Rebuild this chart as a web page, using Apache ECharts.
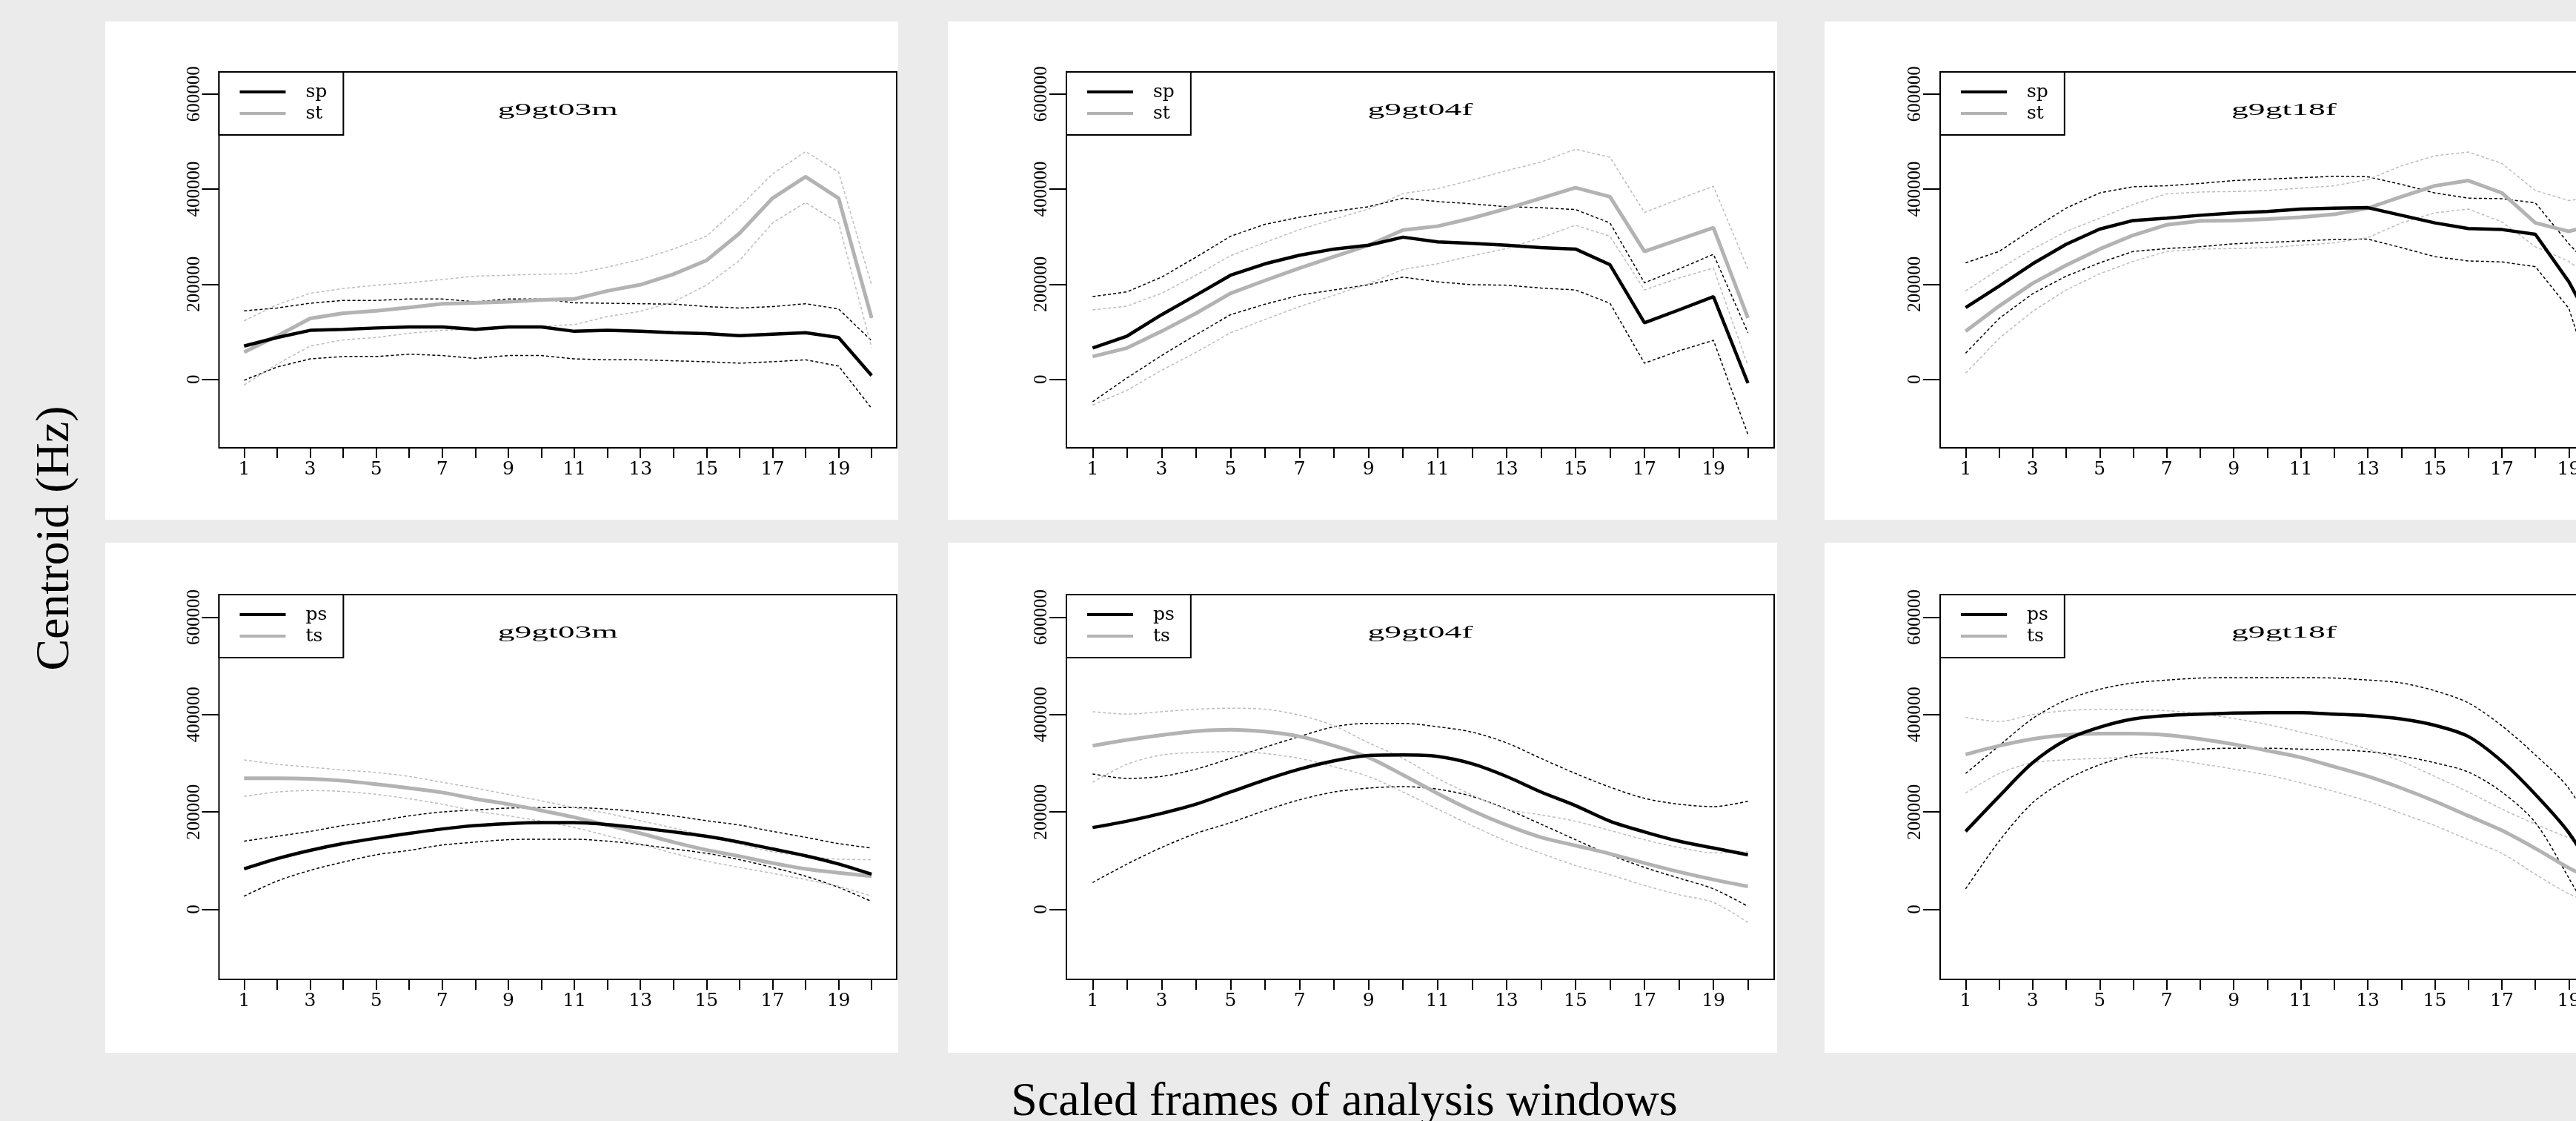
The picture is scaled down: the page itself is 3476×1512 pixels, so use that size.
<!DOCTYPE html>
<html>
<head>
<meta charset="utf-8">
<title>Centroid by scaled frames</title>
<script src="https://cdn.jsdelivr.net/npm/echarts@6/dist/echarts.min.js"></script>
<style>
    html, body { margin: 0; padding: 0; overflow: hidden; background: #ebebeb; }
    #centroid { width: 3560px; height: 1512px; }
</style>
</head>
<body>
<div id="centroid"></div>
<script>
var frames = [1, 2, 3, 4, 5, 6, 7, 8, 9, 10, 11, 12, 13, 14, 15, 16, 17, 18, 19, 20];
var frameLabels = [1, 3, 5, 7, 9, 11, 13, 15, 17, 19];
var centroidTicks = [0, 200000, 400000, 600000];

// top row: sp / st, mean with upper and lower band
var g9gt03m_sp = [70000, 88000, 103000, 105000, 108000, 110000, 110000, 105000, 110000, 110000, 101000, 103000, 101000, 98000, 96000, 92000, 95000, 98000, 88000, 8000];
var g9gt03m_spHi = [144000, 150000, 160000, 166000, 166000, 169000, 169000, 163000, 169000, 169000, 161000, 160000, 159000, 158000, 153000, 150000, 153000, 159000, 148000, 81000];
var g9gt03m_spLo = [-2000, 26000, 43000, 48000, 48000, 53000, 50000, 44000, 50000, 50000, 43000, 41000, 41000, 39000, 37000, 34000, 37000, 41000, 28000, -61000];
var g9gt03m_st = [57000, 91000, 128000, 139000, 144000, 151000, 159000, 161000, 163000, 167000, 169000, 186000, 199000, 221000, 250000, 307000, 381000, 426000, 381000, 129000];
var g9gt03m_stHi = [123000, 157000, 181000, 191000, 198000, 203000, 210000, 217000, 219000, 221000, 222000, 236000, 252000, 274000, 301000, 363000, 432000, 479000, 436000, 198000];
var g9gt03m_stLo = [-12000, 32000, 70000, 83000, 88000, 97000, 103000, 106000, 108000, 112000, 115000, 132000, 143000, 163000, 198000, 250000, 329000, 372000, 329000, 67000];

var g9gt04f_sp = [66000, 91000, 136000, 177000, 219000, 243000, 261000, 274000, 282000, 299000, 289000, 286000, 282000, 277000, 274000, 241000, 119000, 146000, 174000, -8000];
var g9gt04f_spHi = [174000, 184000, 215000, 257000, 301000, 326000, 341000, 353000, 363000, 381000, 374000, 369000, 363000, 361000, 357000, 329000, 203000, 232000, 263000, 98000];
var g9gt04f_spLo = [-47000, 3000, 50000, 94000, 136000, 158000, 177000, 188000, 199000, 215000, 205000, 199000, 198000, 192000, 188000, 160000, 34000, 60000, 82000, -116000];
var g9gt04f_st = [48000, 66000, 101000, 139000, 181000, 208000, 234000, 258000, 282000, 314000, 322000, 339000, 359000, 381000, 403000, 384000, 269000, 294000, 319000, 129000];
var g9gt04f_stHi = [146000, 154000, 181000, 219000, 260000, 288000, 315000, 337000, 358000, 391000, 401000, 419000, 439000, 457000, 484000, 467000, 351000, 379000, 406000, 232000];
var g9gt04f_stLo = [-54000, -23000, 19000, 57000, 98000, 126000, 153000, 177000, 201000, 231000, 243000, 260000, 275000, 298000, 324000, 301000, 188000, 213000, 234000, 29000];

var g9gt18f_sp = [151000, 196000, 243000, 284000, 316000, 334000, 339000, 345000, 350000, 353000, 358000, 360000, 361000, 345000, 329000, 317000, 315000, 305000, 205000, 75000];
var g9gt18f_spHi = [245000, 269000, 316000, 360000, 392000, 405000, 407000, 412000, 418000, 421000, 424000, 427000, 426000, 410000, 392000, 381000, 380000, 371000, 285000, 210000];
var g9gt18f_spLo = [55000, 128000, 180000, 217000, 245000, 269000, 275000, 279000, 285000, 288000, 291000, 294000, 295000, 277000, 258000, 249000, 247000, 237000, 149000, -70000];
var g9gt18f_st = [101000, 154000, 202000, 240000, 274000, 303000, 325000, 333000, 334000, 337000, 341000, 347000, 360000, 384000, 407000, 418000, 392000, 329000, 311000, 330000];
var g9gt18f_stHi = [186000, 232000, 274000, 311000, 339000, 368000, 390000, 394000, 395000, 397000, 402000, 407000, 420000, 449000, 470000, 478000, 454000, 397000, 376000, 385000];
var g9gt18f_stLo = [13000, 86000, 143000, 188000, 222000, 248000, 269000, 274000, 275000, 277000, 282000, 287000, 298000, 329000, 350000, 358000, 331000, 279000, 248000, 195000];

// bottom row: ps / ts
var g9gt03m_ps = [83000, 104000, 121000, 135000, 146000, 156000, 165000, 172000, 176000, 178000, 178000, 174000, 167000, 159000, 150000, 138000, 124000, 110000, 93000, 72000];
var g9gt03m_psHi = [140000, 150000, 160000, 172000, 181000, 192000, 200000, 204000, 208000, 209000, 209000, 206000, 200000, 192000, 182000, 173000, 160000, 148000, 135000, 126000];
var g9gt03m_psLo = [27000, 58000, 80000, 97000, 112000, 121000, 132000, 138000, 143000, 144000, 144000, 140000, 133000, 124000, 115000, 102000, 86000, 68000, 45000, 16000];
var g9gt03m_ts = [269000, 269000, 268000, 264000, 257000, 249000, 240000, 227000, 216000, 203000, 189000, 173000, 156000, 138000, 122000, 109000, 95000, 83000, 75000, 68000];
var g9gt03m_tsHi = [307000, 298000, 292000, 286000, 281000, 273000, 261000, 249000, 236000, 223000, 209000, 197000, 182000, 167000, 150000, 134000, 118000, 109000, 103000, 102000];
var g9gt03m_tsLo = [232000, 241000, 244000, 242000, 236000, 227000, 216000, 202000, 192000, 181000, 168000, 151000, 134000, 115000, 99000, 86000, 74000, 61000, 47000, 27000];

var g9gt04f_ps = [168000, 181000, 197000, 216000, 241000, 266000, 288000, 305000, 316000, 317000, 314000, 299000, 273000, 241000, 213000, 181000, 159000, 140000, 126000, 112000];
var g9gt04f_psHi = [278000, 269000, 273000, 288000, 310000, 333000, 355000, 375000, 382000, 382000, 375000, 364000, 342000, 310000, 279000, 251000, 228000, 216000, 211000, 222000];
var g9gt04f_psLo = [55000, 93000, 127000, 156000, 178000, 203000, 225000, 241000, 249000, 252000, 247000, 232000, 206000, 175000, 143000, 112000, 86000, 64000, 42000, 6000];
var g9gt04f_ts = [336000, 348000, 358000, 366000, 369000, 365000, 355000, 336000, 312000, 276000, 238000, 203000, 173000, 148000, 131000, 114000, 95000, 77000, 61000, 47000];
var g9gt04f_tsHi = [406000, 401000, 406000, 411000, 413000, 411000, 399000, 377000, 342000, 310000, 269000, 235000, 206000, 194000, 181000, 162000, 143000, 127000, 116000, 118000];
var g9gt04f_tsLo = [261000, 298000, 317000, 322000, 324000, 320000, 310000, 293000, 273000, 241000, 206000, 172000, 140000, 115000, 90000, 71000, 49000, 30000, 14000, -27000];

var g9gt18f_ps = [160000, 232000, 301000, 348000, 374000, 391000, 398000, 401000, 403000, 404000, 404000, 401000, 398000, 391000, 378000, 355000, 304000, 236000, 157000, 45000];
var g9gt18f_psHi = [279000, 336000, 392000, 430000, 452000, 465000, 471000, 475000, 476000, 476000, 476000, 475000, 471000, 465000, 449000, 424000, 377000, 317000, 248000, 130000];
var g9gt18f_psLo = [42000, 140000, 219000, 266000, 297000, 317000, 324000, 329000, 331000, 331000, 329000, 328000, 324000, 315000, 301000, 282000, 241000, 178000, 64000, -60000];
var g9gt18f_ts = [318000, 336000, 350000, 358000, 361000, 361000, 358000, 350000, 339000, 326000, 312000, 293000, 273000, 249000, 222000, 192000, 162000, 125000, 85000, 50000];
var g9gt18f_tsHi = [394000, 386000, 400000, 408000, 411000, 410000, 408000, 402000, 392000, 380000, 364000, 348000, 329000, 304000, 273000, 241000, 206000, 175000, 147000, 125000];
var g9gt18f_tsLo = [239000, 279000, 301000, 307000, 310000, 312000, 309000, 299000, 288000, 276000, 260000, 242000, 222000, 197000, 172000, 143000, 115000, 72000, 32000, 5000];

var panels = [
    { row: 0, col: 0, title: 'g9gt03m', names: ['sp', 'st'], lines: [[g9gt03m_sp, g9gt03m_spHi, g9gt03m_spLo], [g9gt03m_st, g9gt03m_stHi, g9gt03m_stLo]] },
    { row: 0, col: 1, title: 'g9gt04f', names: ['sp', 'st'], lines: [[g9gt04f_sp, g9gt04f_spHi, g9gt04f_spLo], [g9gt04f_st, g9gt04f_stHi, g9gt04f_stLo]] },
    { row: 0, col: 2, title: 'g9gt18f', names: ['sp', 'st'], lines: [[g9gt18f_sp, g9gt18f_spHi, g9gt18f_spLo], [g9gt18f_st, g9gt18f_stHi, g9gt18f_stLo]] },
    { row: 1, col: 0, title: 'g9gt03m', names: ['ps', 'ts'], lines: [[g9gt03m_ps, g9gt03m_psHi, g9gt03m_psLo], [g9gt03m_ts, g9gt03m_tsHi, g9gt03m_tsLo]] },
    { row: 1, col: 1, title: 'g9gt04f', names: ['ps', 'ts'], lines: [[g9gt04f_ps, g9gt04f_psHi, g9gt04f_psLo], [g9gt04f_ts, g9gt04f_tsHi, g9gt04f_tsLo]] },
    { row: 1, col: 2, title: 'g9gt18f', names: ['ps', 'ts'], lines: [[g9gt18f_ps, g9gt18f_psHi, g9gt18f_psLo], [g9gt18f_ts, g9gt18f_tsHi, g9gt18f_tsLo]] }
];

// layout in px (the third column runs past the right edge, as in the original)
var colLeft = [295.5, 1439, 2618];
var colWidth = [914.5, 955, 928];
var rowTop = [97, 802];
var rowHeight = [507, 519];
var panelLeft = [142, 1279, 2462];
var panelWidth = [1070, 1119, 1090];
var panelTop = [29, 732];
var panelHeight = [672, 688];

var lineColors = ['#000000', '#b3b3b3'];
var bandColors = ['#000000', '#bdbdbd'];

function toPairs(values) {
    return frames.map(function (f, i) {
        return [f, values[i]];
    });
}

function lineSeries(name, idx, values, color, width, dashed, smooth) {
    return {
        name: name,
        type: 'line',
        xAxisIndex: idx,
        yAxisIndex: idx,
        data: toPairs(values),
        symbol: 'none',
        showSymbol: false,
        smooth: smooth,
        silent: true,
        color: color,
        z: dashed ? 2 : 3,
        lineStyle: {
            color: color,
            width: width,
            type: dashed ? [4, 3] : 'solid'
        }
    };
}

var grids = [], xAxes = [], yAxes = [], series = [], legends = [], graphics = [];

panels.forEach(function (p, idx) {
    var smooth = p.row === 1 ? 0.3 : false;

    graphics.push({
        type: 'rect',
        z: -1,
        silent: true,
        shape: { x: panelLeft[p.col], y: panelTop[p.row], width: panelWidth[p.col], height: panelHeight[p.row] },
        style: { fill: '#ffffff' }
    });

    grids.push({
        left: colLeft[p.col],
        top: rowTop[p.row],
        width: colWidth[p.col],
        height: rowHeight[p.row],
        show: true,
        borderColor: '#000',
        borderWidth: 2
    });

    xAxes.push({
        type: 'value',
        gridIndex: idx,
        min: 0.24,
        max: 20.76,
        axisLine: { show: false, onZero: false },
        splitLine: { show: false },
        axisTick: {
            customValues: frames,
            length: 14,
            lineStyle: { color: '#000', width: 2 }
        },
        axisLabel: {
            customValues: frameLabels,
            margin: 17,
            fontFamily: 'DejaVu Serif',
            fontSize: 25,
            color: '#000'
        }
    });

    yAxes.push({
        type: 'value',
        gridIndex: idx,
        min: -144000,
        max: 646500,
        axisLine: { show: false, onZero: false },
        splitLine: { show: false },
        axisTick: {
            customValues: centroidTicks,
            length: 23,
            lineStyle: { color: '#000', width: 2 }
        },
        axisLabel: {
            customValues: centroidTicks,
            rotate: 90,
            margin: 21,
            fontFamily: 'Liberation Serif',
            fontSize: 25,
            color: '#000',
            formatter: function (v) {
                return String(v);
            }
        }
    });

    // bands first, then the grey mean, black mean on top
    [0, 1].forEach(function (k) {
        series.push(lineSeries(p.names[k] + ' upper', idx, p.lines[k][1], bandColors[k], 1.5, true, smooth));
        series.push(lineSeries(p.names[k] + ' lower', idx, p.lines[k][2], bandColors[k], 1.5, true, smooth));
    });
    series.push(lineSeries(p.names[1], idx, p.lines[1][0], lineColors[1], 5, false, smooth));
    series.push(lineSeries(p.names[0], idx, p.lines[0][0], lineColors[0], 4.5, false, smooth));

    legends.push({
        orient: 'vertical',
        left: colLeft[p.col],
        top: rowTop[p.row],
        selectedMode: false,
        icon: 'rect',
        itemWidth: 62,
        itemHeight: 4,
        itemGap: 3,
        padding: [14, 22, 16, 28],
        borderColor: '#000',
        borderWidth: 2,
        borderRadius: 0,
        backgroundColor: '#fff',
        itemStyle: { borderWidth: 0 },
        textStyle: {
            fontFamily: 'DejaVu Serif',
            fontSize: 25,
            lineHeight: 26,
            color: '#000',
            padding: [0, 0, 0, 22]
        },
        data: [
            { name: p.names[0], itemStyle: { color: lineColors[0], borderWidth: 0 } },
            { name: p.names[1], itemStyle: { color: lineColors[1], borderWidth: 0 } }
        ]
    });

    graphics.push({
        type: 'text',
        z: 10,
        silent: true,
        x: colLeft[p.col] + colWidth[p.col] / 2,
        y: rowTop[p.row] + 52,
        scaleX: 1.9,
        style: {
            text: p.title,
            x: 0,
            y: 0,
            fill: '#000',
            fontFamily: 'Liberation Serif',
            fontSize: 24,
            align: 'center',
            verticalAlign: 'middle'
        }
    });
});

graphics.push({
    type: 'text',
    silent: true,
    x: 75,
    y: 726,
    rotation: Math.PI / 2,
    style: {
        text: 'Centroid (Hz)',
        x: 0,
        y: 0,
        fill: '#000',
        fontFamily: 'Liberation Serif',
        fontSize: 64,
        align: 'center',
        verticalAlign: 'middle'
    }
});
graphics.push({
    type: 'text',
    silent: true,
    x: 1814,
    y: 1487,
    style: {
        text: 'Scaled frames of analysis windows',
        x: 0,
        y: 0,
        fill: '#000',
        fontFamily: 'Liberation Serif',
        fontSize: 64,
        align: 'center',
        verticalAlign: 'middle'
    }
});

var chart = echarts.init(document.getElementById('centroid'));
chart.setOption({
    animation: false,
    backgroundColor: '#ebebeb',
    grid: grids,
    xAxis: xAxes,
    yAxis: yAxes,
    legend: legends,
    graphic: graphics,
    series: series
});
window.addEventListener('resize', function () {
    chart.resize();
});
</script>
</body>
</html>
